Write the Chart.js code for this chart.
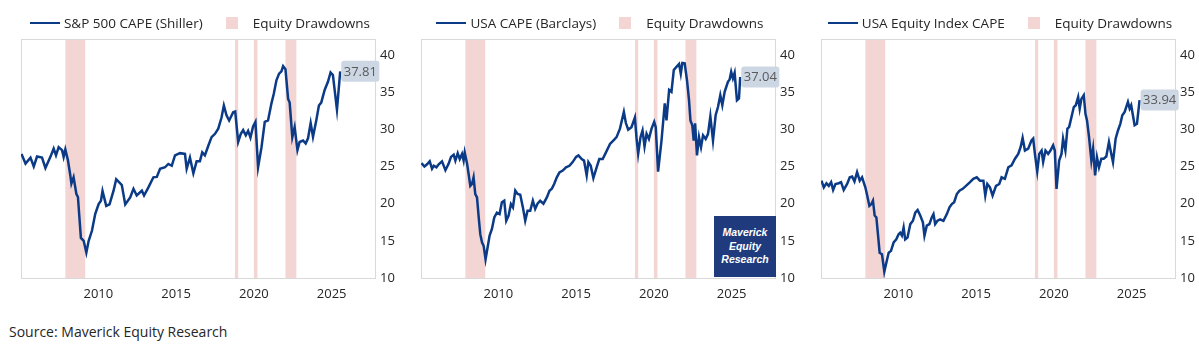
<!DOCTYPE html>
<html>
<head>
<meta charset="utf-8">
<script src="https://cdn.jsdelivr.net/npm/chart.js@4"></script>
<style>
    body { margin: 0; background: #fff; width: 1199px; height: 351px; position: relative; overflow: hidden; font-family: "Open Sans", sans-serif; }
    .panel { position: absolute; top: 0; width: 400px; height: 310px; }
    .panel canvas { position: absolute; left: 0; top: 0; }
    .legend { position: absolute; top: 14px; left: 0; width: 400px; display: flex; justify-content: center; align-items: center; font-size: 13.5px; color: #262626; white-space: nowrap; }
    .legend .ln { display: inline-block; width: 30px; height: 2.5px; background: #0b3a86; margin-right: 4px; }
    .legend .bx { display: inline-block; width: 12px; height: 12px; background: #f3d5d3; margin-left: 23px; margin-right: 15px; }
    .logo { position: absolute; left: 314px; top: 216px; width: 62px; height: 61px; background: #1f3b7d; color: #fff; font: italic bold 10.5px "Liberation Sans", Arial, sans-serif; text-align: center; line-height: 13.5px; box-sizing: border-box; padding-top: 10px; }
    .source { position: absolute; left: 9px; top: 322px; font-size: 14px; color: #262626; }
</style>
</head>
<body>
<div class="panel" id="p0"><canvas id="chart0" width="400" height="310"></canvas></div>
<div class="panel" id="p1" style="left:400px"><canvas id="chart1" width="400" height="310"></canvas><div class="logo">Maverick<br>Equity<br>Research</div></div>
<div class="panel" id="p2" style="left:800px"><canvas id="chart2" width="400" height="310"></canvas></div>
<div class="source">Source: Maverick Equity Research</div>
<script>
var seriesNames = ["S&P 500 CAPE (Shiller)", "USA CAPE (Barclays)", "USA Equity Index CAPE"];
var bandName = "Equity Drawdowns";

var shillerYears = [2005.06, 2005.32, 2005.64, 2005.85, 2006.06, 2006.38, 2006.60, 2006.92, 2007.13, 2007.28,
    2007.45, 2007.67, 2007.77, 2007.88, 2008.05, 2008.20, 2008.27, 2008.41, 2008.59, 2008.69,
    2008.80, 2008.88, 2009.06, 2009.23, 2009.38, 2009.59, 2009.80, 2010.02, 2010.17, 2010.27,
    2010.51, 2010.72, 2010.98, 2011.15, 2011.36, 2011.51, 2011.73, 2012.05, 2012.26, 2012.47,
    2012.80, 2012.94, 2013.22, 2013.54, 2013.76, 2013.97, 2014.29, 2014.50, 2014.72, 2014.93,
    2015.25, 2015.57, 2015.68, 2015.89, 2016.11, 2016.32, 2016.53, 2016.68, 2016.85, 2017.07,
    2017.28, 2017.50, 2017.71, 2017.92, 2018.07, 2018.24, 2018.41, 2018.67, 2018.80, 2018.99,
    2019.16, 2019.31, 2019.48, 2019.63, 2019.78, 2019.95, 2020.10, 2020.27, 2020.49, 2020.70,
    2020.91, 2021.13, 2021.28, 2021.45, 2021.62, 2021.77, 2021.88, 2022.03, 2022.20, 2022.30,
    2022.47, 2022.62, 2022.80, 2022.94, 2023.16, 2023.33, 2023.48, 2023.65, 2023.80, 2024.01,
    2024.18, 2024.33, 2024.55, 2024.76, 2024.93, 2025.08, 2025.34, 2025.55];
var shillerCape = [26.7, 25.4, 26.2, 25.0, 26.35, 26.2, 24.8, 26.3, 27.4, 26.5,
    27.6, 27.2, 26.3, 27.3, 25.8, 23.8, 22.7, 23.55, 21.3, 20.9,
    17.7, 15.4, 15.0, 13.4, 15.0, 16.35, 18.6, 19.95, 20.4, 21.7,
    19.7, 19.9, 21.75, 23.3, 22.85, 22.5, 19.9, 20.85, 22.0, 21.1,
    21.75, 21.1, 22.2, 23.55, 23.6, 24.7, 24.9, 25.35, 25.1, 26.5,
    26.8, 26.7, 24.7, 26.2, 24.1, 25.7, 25.7, 26.9, 26.5, 27.8,
    28.95, 29.4, 30.1, 31.6, 33.2, 31.9, 31.2, 32.3, 32.4, 28.3,
    29.4, 29.9, 29.2, 29.8, 28.9, 30.4, 31.0, 24.9, 27.6, 31.0,
    31.2, 33.5, 34.8, 36.6, 37.5, 37.8, 38.5, 38.1, 34.1, 33.6,
    28.95, 30.3, 27.2, 28.3, 28.5, 28.1, 28.8, 30.85, 29.0, 31.2,
    33.2, 33.6, 35.3, 36.4, 37.65, 37.3, 32.65, 37.81];

var barclaysYears = [2005.06, 2005.25, 2005.42, 2005.59, 2005.74, 2005.85, 2006.02, 2006.17, 2006.38, 2006.60,
    2006.81, 2006.96, 2007.13, 2007.24, 2007.39, 2007.52, 2007.67, 2007.77, 2007.84, 2007.99,
    2008.09, 2008.20, 2008.31, 2008.41, 2008.52, 2008.63, 2008.74, 2008.84, 2008.95, 2009.06,
    2009.18, 2009.31, 2009.44, 2009.59, 2009.74, 2009.91, 2010.08, 2010.23, 2010.38, 2010.51,
    2010.66, 2010.81, 2010.94, 2011.09, 2011.24, 2011.41, 2011.58, 2011.73, 2011.88, 2012.05,
    2012.22, 2012.37, 2012.52, 2012.69, 2012.90, 2013.12, 2013.29, 2013.44, 2013.59, 2013.76,
    2013.93, 2014.14, 2014.35, 2014.57, 2014.78, 2015.00, 2015.15, 2015.36, 2015.51, 2015.68,
    2015.79, 2015.94, 2016.11, 2016.32, 2016.49, 2016.71, 2016.92, 2017.18, 2017.39, 2017.60,
    2017.82, 2018.07, 2018.20, 2018.35, 2018.56, 2018.78, 2018.88, 2018.99, 2019.14, 2019.27,
    2019.40, 2019.53, 2019.68, 2019.85, 2020.02, 2020.12, 2020.27, 2020.49, 2020.70, 2020.81,
    2020.98, 2021.13, 2021.28, 2021.45, 2021.62, 2021.73, 2021.83, 2021.98, 2022.13, 2022.26,
    2022.35, 2022.47, 2022.56, 2022.65, 2022.77, 2022.90, 2023.03, 2023.16, 2023.33, 2023.48,
    2023.63, 2023.80, 2023.97, 2024.12, 2024.27, 2024.40, 2024.55, 2024.76, 2024.87, 2024.97,
    2025.08, 2025.19, 2025.34, 2025.47, 2025.55];
var barclaysCape = [25.45, 25.0, 25.3, 25.7, 24.7, 25.1, 24.9, 25.3, 25.7, 24.5,
    25.4, 26.3, 26.6, 25.8, 26.8, 26.0, 26.7, 25.8, 26.9, 25.4,
    24.0, 22.4, 22.65, 23.55, 21.3, 20.85, 18.15, 15.9, 14.8, 14.3,
    12.5, 14.1, 15.7, 16.6, 18.15, 18.8, 18.6, 20.2, 20.4, 17.7,
    18.4, 19.95, 19.5, 21.75, 21.3, 21.2, 19.5, 17.7, 19.05, 19.05,
    20.4, 19.3, 20.0, 20.4, 20.0, 20.85, 21.75, 22.0, 22.65, 23.55,
    24.2, 24.45, 24.9, 25.1, 25.6, 26.3, 26.5, 26.0, 25.8, 23.8,
    25.6, 25.1, 23.45, 24.9, 26.0, 26.0, 26.9, 28.05, 28.5, 28.95,
    30.1, 32.35, 30.85, 29.95, 30.3, 31.6, 28.95, 26.7, 28.95, 29.85,
    27.7, 29.4, 28.7, 30.1, 31.0, 30.3, 24.3, 28.5, 33.5, 31.2,
    35.3, 35.05, 38.0, 38.4, 38.8, 37.5, 38.95, 38.9, 36.6, 33.9,
    31.2, 30.55, 28.5, 30.8, 26.5, 28.95, 27.6, 29.2, 28.7, 29.4,
    31.75, 28.5, 31.9, 33.0, 34.6, 33.25, 35.05, 36.4, 36.7, 37.75,
    36.85, 37.6, 33.9, 34.15, 37.04];

var indexYears = [2005.06, 2005.21, 2005.38, 2005.53, 2005.68, 2005.81, 2005.96, 2006.17, 2006.32, 2006.49,
    2006.71, 2006.88, 2007.03, 2007.18, 2007.35, 2007.52, 2007.67, 2007.77, 2007.88, 2007.99,
    2008.14, 2008.27, 2008.37, 2008.48, 2008.59, 2008.69, 2008.80, 2008.95, 2009.10, 2009.23,
    2009.38, 2009.53, 2009.70, 2009.87, 2010.02, 2010.12, 2010.23, 2010.34, 2010.44, 2010.59,
    2010.77, 2010.94, 2011.09, 2011.24, 2011.41, 2011.58, 2011.68, 2011.83, 2012.00, 2012.15,
    2012.26, 2012.37, 2012.52, 2012.69, 2012.90, 2013.12, 2013.29, 2013.44, 2013.59, 2013.76,
    2013.93, 2014.14, 2014.35, 2014.61, 2014.82, 2015.04, 2015.25, 2015.47, 2015.59, 2015.72,
    2015.89, 2016.06, 2016.28, 2016.49, 2016.64, 2016.85, 2017.07, 2017.28, 2017.50, 2017.71,
    2017.86, 2017.99, 2018.14, 2018.35, 2018.56, 2018.67, 2018.78, 2018.93, 2019.06, 2019.21,
    2019.31, 2019.46, 2019.63, 2019.78, 2019.95, 2020.06, 2020.17, 2020.34, 2020.49, 2020.59,
    2020.74, 2020.87, 2020.98, 2021.13, 2021.28, 2021.41, 2021.56, 2021.66, 2021.77, 2021.92,
    2022.03, 2022.13, 2022.26, 2022.41, 2022.52, 2022.65, 2022.77, 2022.90, 2023.05, 2023.20,
    2023.37, 2023.54, 2023.69, 2023.80, 2023.97, 2024.12, 2024.27, 2024.40, 2024.55, 2024.76,
    2024.87, 2024.97, 2025.08, 2025.19, 2025.34, 2025.51];
var indexCape = [23.1, 22.2, 22.75, 22.4, 22.9, 21.85, 22.65, 22.75, 22.9, 21.85,
    22.65, 23.55, 23.65, 23.0, 24.25, 23.1, 23.55, 22.9, 22.2, 21.2,
    19.7, 19.95, 20.4, 18.4, 18.15, 15.9, 13.4, 13.2, 10.85, 12.05,
    13.4, 13.65, 14.8, 15.2, 15.9, 16.1, 15.7, 16.8, 15.2, 15.45,
    17.25, 17.7, 18.8, 19.15, 18.4, 17.5, 15.7, 17.05, 17.25, 18.15,
    18.6, 17.25, 17.7, 17.9, 17.7, 18.6, 19.5, 19.95, 20.2, 21.3,
    21.75, 22.0, 22.4, 22.9, 23.35, 23.55, 23.1, 23.1, 21.1, 22.65,
    22.2, 21.1, 22.4, 22.65, 23.55, 23.35, 24.9, 25.15, 26.05, 26.7,
    27.6, 28.85, 27.15, 27.4, 28.5, 28.75, 26.7, 24.35, 26.7, 27.15,
    25.6, 27.15, 26.7, 27.15, 27.85, 27.15, 22.0, 25.8, 26.7, 28.75,
    27.15, 30.1, 30.3, 31.65, 33.0, 33.25, 34.35, 32.8, 34.1, 34.6,
    32.1, 31.2, 28.95, 25.8, 27.4, 23.8, 26.25, 24.9, 26.05, 26.05,
    26.35, 28.3, 26.7, 25.6, 28.75, 29.85, 30.75, 31.9, 32.35, 33.7,
    32.8, 33.25, 31.9, 30.55, 30.75, 33.94];

// equity drawdown periods (decimal years)
var drawdownStart = [2007.88, 2018.78, 2020.0, 2022.03];
var drawdownEnd = [2009.16, 2018.99, 2020.23, 2022.73];

var xTickYears = [2010, 2015, 2020, 2025];
var yTickValues = [10, 15, 20, 25, 30, 35, 40];

var lineColor = "#0b3a86";
var bandColor = "#f3d5d3";
var tickFont = { family: "'Open Sans', sans-serif", size: 13 };

function toPoints(xs, ys) {
    var pts = [];
    for (var i = 0; i < xs.length; i++) pts.push({ x: xs[i], y: ys[i] });
    return pts;
}

var bandsPlugin = {
    id: "bands",
    beforeDatasetsDraw: function (chart) {
        var ctx = chart.ctx, area = chart.chartArea, xs = chart.scales.x;
        ctx.save();
        ctx.fillStyle = bandColor;
        for (var i = 0; i < drawdownStart.length; i++) {
            var x1 = xs.getPixelForValue(drawdownStart[i]);
            var x2 = xs.getPixelForValue(drawdownEnd[i]);
            ctx.fillRect(x1, area.top, x2 - x1, area.bottom - area.top);
        }
        ctx.strokeStyle = "#d9d9d9";
        ctx.lineWidth = 1;
        ctx.strokeRect(area.left + 0.5, area.top + 0.5, area.right - area.left - 1, area.bottom - area.top);
        ctx.restore();
    }
};

var lastValuePlugin = {
    id: "lastValue",
    afterDatasetsDraw: function (chart) {
        var data = chart.data.datasets[0].data;
        var last = data[data.length - 1];
        var x = chart.scales.x.getPixelForValue(last.x);
        var y = chart.scales.y.getPixelForValue(last.y);
        var ctx = chart.ctx;
        var text = last.y.toFixed(2);
        ctx.save();
        ctx.font = "13px 'Open Sans', sans-serif";
        var w = ctx.measureText(text).width + 5;
        var h = 21;
        ctx.fillStyle = "#cdd7e4";
        ctx.beginPath();
        ctx.roundRect(x + 1, y - h / 2, w, h, 3);
        ctx.fill();
        ctx.fillStyle = "#595959";
        ctx.textBaseline = "middle";
        ctx.fillText(text, x + 3.5, y + 0.5);
        ctx.restore();
    }
};

function makeLegend(panel, name) {
    var lg = document.createElement("div");
    lg.className = "legend";
    lg.innerHTML = '<span class="ln"></span><span></span><span class="bx"></span><span></span>';
    lg.children[1].textContent = name;
    lg.children[3].textContent = bandName;
    panel.appendChild(lg);
}

function makeChart(idx, xs, ys) {
    var canvas = document.getElementById("chart" + idx);
    makeLegend(document.getElementById("p" + idx), seriesNames[idx]);
    return new Chart(canvas.getContext("2d"), {
        type: "line",
        data: {
            datasets: [
                {
                    label: seriesNames[idx],
                    data: toPoints(xs, ys),
                    borderColor: lineColor,
                    borderWidth: 2.5,
                    pointRadius: 0,
                    tension: 0,
                    fill: false,
                },
            ],
        },
        options: {
            responsive: false,
            animation: false,
            layout: { padding: { left: 21, top: 39, right: 0, bottom: 0 } },
            plugins: {
                legend: { display: false },
                tooltip: { enabled: false },
            },
            scales: {
                x: {
                    type: "linear",
                    min: 2005.03,
                    max: 2027.85,
                    grid: { display: false, drawTicks: false },
                    border: { display: false },
                    afterBuildTicks: function (s) {
                        s.ticks = xTickYears.map(function (v) { return { value: v }; });
                    },
                    afterFit: function (s) { s.height = 32; },
                    ticks: {
                        padding: 8,
                        color: "#262626",
                        font: tickFont,
                        maxRotation: 0,
                        autoSkip: false,
                        callback: function (v) { return String(v); },
                    },
                },
                y: {
                    position: "right",
                    min: 10,
                    max: 42.16,
                    grid: { display: false, drawTicks: false },
                    border: { display: false },
                    afterBuildTicks: function (s) {
                        s.ticks = yTickValues.map(function (v) { return { value: v }; });
                    },
                    afterFit: function (s) { s.width = 24; },
                    ticks: {
                        padding: 4,
                        color: "#262626",
                        font: tickFont,
                        autoSkip: false,
                    },
                },
            },
        },
        plugins: [bandsPlugin, lastValuePlugin],
    });
}

makeChart(0, shillerYears, shillerCape);
makeChart(1, barclaysYears, barclaysCape);
makeChart(2, indexYears, indexCape);
</script>
</body>
</html>
